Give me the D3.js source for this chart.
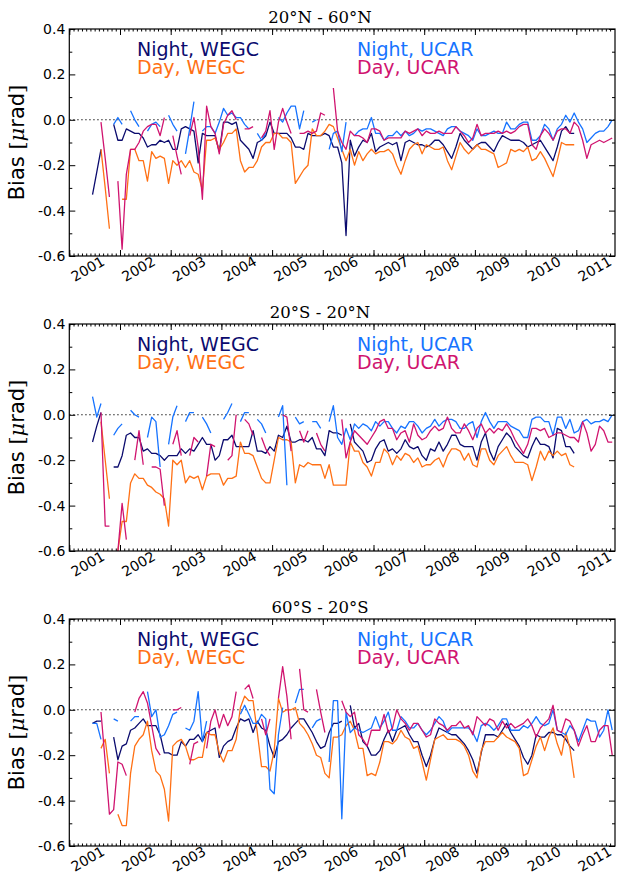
<!DOCTYPE html>
<html><head><meta charset="utf-8">
<script src="https://cdn.jsdelivr.net/npm/d3@7"></script>
<style>body{margin:0;background:#fff}svg{display:block}</style>
</head><body>
<script>
const seriesNames = ["Night, WEGC", "Day, WEGC", "Night, UCAR", "Day, UCAR"];
const seriesColors = ["#0b0b6e", "#ff7014", "#1673ff", "#d0146f"];
const panelTitles = ["20°N - 60°N", "20°S - 20°N", "60°S - 20°S"];
const yearTicks = [2001, 2002, 2003, 2004, 2005, 2006, 2007, 2008, 2009, 2010, 2011];
const yTickValues = [0.4, 0.2, 0.0, -0.2, -0.4, -0.6];
const yMinorValues = [0.3, 0.1, -0.1, -0.3, -0.5];
// monthly samples, June 2001 .. September 2011 (mid-month positions)
const firstMonth = 2001 + 5 / 12;
const months = d3.range(124).map(i => firstMonth + (i + 0.5) / 12);

// ---- 20N-60N ----
const p1NightWEGC = [-0.33,-0.23,-0.13,null,null,-0.02,-0.09,
 -0.09,-0.04,-0.05,-0.06,-0.06,-0.08,-0.12,-0.11,-0.11,-0.09,-0.10,-0.09,
 -0.13,-0.13,-0.04,-0.03,-0.04,-0.05,-0.19,-0.06,-0.07,-0.07,-0.07,-0.14,
 -0.01,-0.01,-0.02,-0.01,-0.09,-0.11,-0.13,-0.17,-0.10,-0.09,-0.07,-0.01,
 -0.06,-0.06,-0.06,-0.06,-0.08,-0.12,-0.12,-0.13,-0.06,-0.07,-0.07,-0.07,
 -0.06,-0.07,-0.12,-0.12,-0.19,-0.51,-0.09,-0.16,-0.12,-0.09,-0.10,-0.06,
 -0.14,-0.12,-0.11,-0.10,-0.11,-0.10,-0.18,-0.10,-0.09,-0.10,-0.11,-0.11,
 -0.12,-0.11,-0.09,-0.09,-0.11,-0.14,-0.17,-0.12,-0.06,-0.09,-0.11,-0.13,
 -0.11,-0.10,-0.10,-0.12,-0.14,-0.10,-0.07,-0.08,-0.09,-0.09,-0.09,-0.10,
 -0.12,-0.11,-0.10,-0.09,-0.12,-0.15,-0.18,-0.12,-0.05,-0.03,-0.06,-0.06,
 null,null,null,null,null,null,null,null,null];
const p1DayWEGC = [null,null,-0.13,-0.30,-0.48,null,null,
 -0.35,-0.35,-0.13,-0.13,-0.18,-0.18,-0.27,-0.14,-0.17,-0.16,-0.17,-0.28,
 -0.18,-0.20,-0.18,-0.21,-0.18,-0.23,-0.24,-0.31,-0.09,-0.09,-0.08,-0.13,
 -0.10,-0.06,-0.06,-0.04,-0.18,-0.23,-0.21,-0.21,-0.18,-0.12,-0.10,-0.10,
 -0.06,-0.06,-0.08,-0.08,-0.10,-0.28,-0.25,-0.22,-0.20,-0.04,-0.07,-0.07,
 -0.05,-0.02,-0.03,-0.08,-0.13,-0.18,-0.13,-0.20,-0.14,-0.18,-0.15,-0.13,
 -0.15,-0.14,-0.14,-0.13,-0.15,-0.20,-0.24,-0.18,-0.13,-0.11,-0.10,-0.15,
 -0.11,-0.12,-0.13,-0.13,-0.12,-0.18,-0.22,-0.16,-0.10,-0.13,-0.15,-0.13,
 -0.11,-0.13,-0.13,-0.14,-0.15,-0.21,-0.20,-0.19,-0.13,-0.14,-0.13,-0.14,
 -0.12,-0.18,-0.17,-0.14,-0.17,-0.21,-0.25,-0.18,-0.10,-0.11,-0.11,-0.11,
 null,null,null,null,null,null,null,null,null];
const p1NightUCAR = [null,null,null,null,null,-0.02,0.01,
 -0.02,null,0.04,0.00,-0.03,null,-0.05,-0.02,-0.01,-0.03,null,0.02,
 -0.02,-0.05,null,-0.15,-0.04,0.08,null,-0.05,-0.03,-0.03,-0.06,-0.01,
 0.05,0.02,0.03,0.01,0.01,-0.02,-0.04,null,-0.06,-0.09,-0.06,null,
 null,0.01,-0.01,0.03,0.06,0.06,-0.04,0.04,null,-0.01,0.00,null,
 null,-0.13,-0.06,-0.05,-0.14,-0.01,null,-0.07,-0.05,-0.04,-0.04,0.01,
 -0.06,-0.06,-0.09,-0.07,-0.07,-0.05,-0.07,-0.05,-0.07,-0.06,-0.04,-0.05,
 -0.04,-0.04,-0.05,-0.06,-0.07,-0.04,-0.03,-0.03,-0.05,-0.06,-0.07,-0.09,
 -0.04,-0.07,-0.07,-0.06,-0.05,-0.06,-0.06,-0.01,-0.04,-0.04,-0.02,-0.01,
 -0.01,-0.09,-0.09,-0.07,-0.02,-0.04,-0.09,-0.04,-0.02,0.02,-0.01,0.03,
 -0.01,-0.04,-0.10,-0.08,-0.06,-0.05,-0.05,-0.03,0.00];
const p1DayUCAR = [null,null,-0.01,-0.17,-0.34,null,-0.27,
 -0.57,-0.24,-0.13,-0.13,-0.10,-0.05,-0.03,-0.02,-0.02,-0.07,0.01,null,
 -0.07,-0.16,-0.24,null,-0.07,0.01,-0.12,-0.35,0.06,-0.03,-0.06,-0.15,
 -0.02,0.02,0.04,0.00,null,-0.04,-0.04,-0.03,null,-0.08,-0.05,0.04,
 -0.13,-0.01,0.05,-0.01,-0.06,null,-0.06,-0.06,-0.05,-0.06,-0.05,0.03,
 0.02,null,0.14,-0.05,-0.10,-0.13,-0.05,-0.07,-0.07,-0.08,-0.10,-0.04,
 -0.04,-0.05,-0.09,-0.08,-0.08,-0.08,-0.08,-0.05,-0.06,-0.05,-0.04,-0.07,
 -0.05,-0.06,-0.06,-0.05,-0.06,-0.06,-0.06,-0.03,-0.05,-0.07,-0.10,-0.08,
 -0.02,-0.07,-0.06,-0.06,-0.06,-0.05,-0.06,-0.05,-0.06,-0.05,-0.03,-0.02,
 -0.02,-0.11,-0.13,-0.07,-0.04,-0.06,-0.09,-0.05,-0.04,-0.04,-0.06,-0.01,
 -0.03,-0.09,-0.17,-0.11,-0.10,-0.09,-0.10,-0.09,-0.08];

// ---- 20S-20N ----
const p2NightWEGC = [-0.12,-0.05,0.01,null,null,-0.23,-0.23,
 -0.18,-0.09,-0.08,-0.10,-0.10,-0.16,-0.15,-0.17,-0.17,-0.18,-0.20,-0.18,
 -0.18,-0.18,-0.15,-0.17,-0.15,-0.16,-0.13,-0.10,-0.13,-0.13,-0.20,-0.18,
 -0.11,-0.11,-0.09,-0.14,-0.14,-0.14,-0.14,-0.07,-0.16,-0.16,-0.17,-0.14,
 -0.16,-0.09,-0.10,-0.05,-0.12,-0.12,-0.11,-0.11,-0.12,-0.10,-0.15,-0.15,
 -0.18,-0.07,-0.08,-0.08,-0.09,null,-0.04,-0.12,-0.14,-0.16,-0.21,-0.20,
 -0.15,-0.12,-0.11,-0.16,-0.15,-0.17,-0.15,-0.11,-0.14,-0.15,-0.14,-0.18,
 -0.20,-0.15,-0.16,-0.12,-0.16,-0.13,-0.09,-0.09,-0.13,-0.14,-0.14,-0.14,
 -0.20,-0.12,-0.08,-0.16,-0.20,-0.14,-0.11,-0.08,-0.10,-0.14,-0.16,-0.18,
 -0.19,-0.14,-0.10,-0.13,-0.13,-0.14,-0.19,-0.06,-0.07,-0.14,-0.14,-0.17,
 null,null,null,null,null,null,null,null,null];
const p2DayWEGC = [null,null,-0.03,-0.20,-0.37,null,-0.60,
 -0.47,-0.47,-0.30,-0.26,-0.28,-0.28,-0.31,-0.32,-0.34,-0.35,-0.37,-0.49,
 -0.20,-0.22,-0.20,-0.30,-0.27,-0.28,-0.27,-0.33,-0.27,-0.26,-0.26,-0.26,
 -0.31,-0.28,-0.28,-0.27,-0.12,-0.17,-0.17,-0.18,-0.23,-0.28,-0.30,-0.30,
 -0.20,-0.10,-0.11,-0.11,-0.12,-0.30,-0.22,-0.23,-0.21,-0.22,-0.22,-0.22,
 -0.28,-0.22,-0.31,-0.31,-0.31,-0.31,-0.12,-0.16,-0.16,-0.21,-0.23,-0.27,
 -0.21,-0.21,-0.15,-0.17,-0.22,-0.18,-0.20,-0.17,-0.18,-0.21,-0.19,-0.23,
 -0.22,-0.22,-0.20,-0.19,-0.23,-0.18,-0.15,-0.15,-0.16,-0.20,-0.17,-0.22,
 -0.23,-0.15,-0.15,-0.20,-0.22,-0.18,-0.16,-0.14,-0.18,-0.21,-0.21,-0.21,
 -0.22,-0.29,-0.23,-0.16,-0.20,-0.16,-0.18,-0.16,-0.18,-0.17,-0.22,-0.23,
 null,null,null,null,null,null,null,null,null];
const p2NightUCAR = [0.08,-0.01,0.05,null,null,-0.09,-0.06,
 -0.04,null,0.02,0.00,-0.01,null,-0.10,-0.01,-0.03,-0.23,null,-0.13,
 -0.01,0.04,null,-0.03,0.01,0.01,null,-0.01,-0.04,-0.08,null,null,
 -0.02,0.01,0.05,null,-0.03,0.01,0.01,null,-0.02,-0.04,-0.08,null,
 null,-0.01,0.04,-0.31,null,-0.01,-0.04,-0.03,null,-0.03,-0.03,-0.06,
 null,-0.03,0.04,-0.10,-0.13,-0.06,-0.11,-0.04,-0.06,-0.04,-0.05,-0.07,
 -0.03,-0.05,-0.03,-0.03,-0.06,-0.08,-0.05,-0.06,-0.03,-0.03,-0.05,-0.08,
 -0.06,-0.05,-0.02,-0.05,-0.03,-0.02,-0.02,-0.03,-0.06,-0.06,-0.04,-0.03,
 -0.10,-0.03,0.01,-0.03,-0.06,-0.03,-0.03,-0.03,-0.05,-0.06,-0.07,-0.10,
 -0.10,-0.02,-0.01,-0.01,-0.03,-0.03,-0.09,-0.01,-0.01,-0.06,-0.02,-0.08,
 -0.07,-0.03,-0.02,-0.04,-0.03,-0.03,-0.02,-0.03,0.00];
const p2DayUCAR = [null,null,0.01,-0.49,-0.49,null,-0.60,
 -0.39,-0.55,null,-0.20,-0.07,-0.22,null,-0.23,-0.23,-0.24,-0.40,null,
 -0.13,-0.07,-0.18,null,-0.18,-0.10,-0.12,null,-0.27,-0.13,-0.14,null,
 null,-0.20,-0.18,0.00,null,-0.02,-0.04,-0.09,null,-0.10,-0.15,-0.18,
 null,null,0.00,-0.01,-0.16,null,-0.07,-0.12,-0.07,null,-0.08,-0.13,
 -0.16,null,null,null,-0.02,-0.19,-0.12,-0.07,-0.09,-0.11,-0.13,-0.10,
 -0.07,-0.03,-0.02,-0.06,-0.06,-0.11,-0.08,-0.07,-0.12,-0.04,-0.09,-0.11,
 -0.10,-0.07,-0.05,-0.07,-0.06,-0.01,-0.06,-0.08,-0.08,-0.04,-0.07,-0.11,
 -0.06,-0.04,-0.08,-0.06,-0.08,-0.06,-0.07,-0.04,-0.07,-0.11,-0.14,-0.17,
 -0.13,-0.06,-0.06,-0.07,-0.06,-0.10,-0.09,-0.08,-0.08,-0.09,-0.10,-0.10,
 -0.12,-0.03,-0.08,-0.16,-0.13,-0.05,-0.07,-0.12,-0.12];

// ---- 60S-20S ----
const p3NightWEGC = [-0.06,-0.05,-0.05,null,null,-0.12,-0.22,
 -0.16,-0.15,-0.09,-0.08,-0.06,-0.04,-0.07,-0.07,-0.07,-0.11,-0.19,-0.19,
 -0.20,-0.20,-0.14,-0.16,-0.13,-0.13,-0.11,-0.14,-0.10,-0.09,-0.08,-0.21,
 -0.16,-0.14,-0.13,-0.08,-0.04,-0.05,-0.04,-0.10,-0.05,-0.08,-0.09,-0.16,
 -0.21,-0.14,-0.13,-0.11,-0.08,-0.06,-0.04,-0.04,-0.07,-0.10,-0.14,-0.17,
 -0.16,-0.10,-0.06,-0.06,-0.05,null,0.02,-0.08,-0.06,-0.14,-0.16,-0.20,
 -0.20,-0.18,-0.13,-0.09,-0.14,-0.09,-0.08,-0.07,-0.11,-0.14,-0.14,-0.20,
 -0.25,-0.20,-0.13,-0.08,-0.09,-0.10,-0.11,-0.11,-0.13,-0.15,-0.18,-0.22,
 -0.28,-0.19,-0.11,-0.11,-0.11,-0.12,-0.09,-0.06,-0.10,-0.13,-0.16,-0.21,
 -0.24,-0.20,-0.11,-0.12,-0.12,-0.10,-0.10,-0.11,-0.11,-0.13,-0.16,-0.18,
 null,null,null,null,null,null,null,null,null];
const p3DayWEGC = [null,null,-0.17,-0.13,-0.28,null,-0.46,
 -0.51,-0.51,-0.28,-0.16,-0.13,-0.11,-0.05,-0.18,-0.27,-0.29,-0.35,-0.49,
 -0.16,-0.14,-0.13,-0.16,-0.22,-0.22,-0.21,-0.21,-0.10,-0.11,-0.11,-0.19,
 -0.23,-0.18,-0.18,-0.13,0.01,0.06,0.04,0.04,-0.10,-0.25,-0.25,-0.27,
 -0.18,0.05,-0.01,0.00,0.00,0.01,-0.06,-0.08,-0.11,-0.15,-0.20,-0.21,
 -0.28,-0.30,-0.12,-0.12,-0.11,-0.07,-0.05,-0.09,-0.17,-0.17,-0.29,-0.28,
 -0.29,-0.23,-0.14,-0.14,-0.15,-0.13,-0.09,-0.12,-0.13,-0.17,-0.16,-0.23,
 -0.31,-0.22,-0.13,-0.12,-0.11,-0.13,-0.13,-0.13,-0.14,-0.16,-0.20,-0.27,
 -0.30,-0.18,-0.14,-0.14,-0.14,-0.12,-0.10,-0.12,-0.13,-0.14,-0.17,-0.29,
 -0.28,-0.22,-0.16,-0.12,-0.18,-0.12,-0.08,-0.15,-0.20,-0.10,-0.17,-0.30,
 null,null,null,null,null,null,null,null,null];
const p3NightUCAR = [-0.06,-0.06,-0.13,null,null,-0.04,-0.05,
 null,null,-0.05,-0.03,-0.03,null,0.08,-0.03,0.00,-0.12,-0.11,-0.07,
 -0.02,-0.01,null,-0.08,-0.09,-0.05,0.08,-0.14,-0.05,null,null,null,
 null,null,null,null,-0.02,0.02,-0.02,-0.06,-0.06,-0.02,-0.04,-0.35,
 -0.37,-0.11,0.01,null,null,0.03,0.09,0.09,null,-0.08,-0.05,-0.04,
 null,-0.23,0.04,0.04,-0.48,-0.01,-0.10,-0.08,-0.09,-0.10,-0.09,-0.08,
 -0.03,-0.08,-0.05,-0.01,-0.09,-0.09,-0.03,-0.05,-0.08,-0.08,-0.06,-0.09,
 -0.11,-0.09,-0.06,-0.03,-0.05,-0.10,-0.08,-0.08,-0.08,-0.08,-0.08,-0.10,
 -0.14,-0.07,-0.06,-0.07,-0.09,-0.07,-0.04,-0.04,-0.09,-0.09,-0.09,-0.07,
 -0.08,-0.06,-0.03,-0.06,-0.07,-0.06,0.00,-0.09,-0.10,-0.11,-0.07,-0.09,
 -0.14,-0.09,-0.04,-0.05,-0.05,-0.12,-0.09,0.00,-0.09];
const p3DayUCAR = [null,null,-0.01,-0.23,-0.46,-0.44,-0.23,
 -0.24,-0.29,null,-0.01,0.05,0.08,0.03,-0.07,-0.17,-0.20,null,null,
 0.00,0.00,0.01,null,-0.24,-0.15,-0.14,null,-0.17,-0.05,0.00,-0.08,
 -0.02,-0.07,-0.03,0.08,null,0.09,0.11,0.05,null,-0.04,-0.11,-0.04,
 null,0.05,0.19,0.06,-0.13,null,0.18,0.00,-0.01,null,0.09,-0.01,
 -0.10,null,null,null,0.04,-0.01,-0.03,-0.01,-0.11,-0.13,-0.16,-0.09,
 -0.09,-0.09,-0.02,-0.10,-0.08,0.00,-0.04,-0.06,-0.09,-0.06,-0.06,-0.09,
 -0.12,-0.11,-0.04,-0.06,-0.07,-0.09,-0.07,-0.07,-0.05,-0.08,-0.07,-0.11,
 -0.03,-0.05,-0.07,-0.04,-0.05,-0.09,-0.05,-0.08,-0.06,-0.08,-0.07,-0.06,
 -0.04,-0.07,-0.12,-0.08,-0.06,-0.04,0.02,-0.09,-0.10,-0.04,-0.05,-0.09,
 -0.16,-0.11,-0.07,-0.14,-0.14,-0.09,-0.07,-0.07,-0.20];

const panelSeries = [
  [p1NightWEGC, p1DayWEGC, p1NightUCAR, p1DayUCAR],
  [p2NightWEGC, p2DayWEGC, p2NightUCAR, p2DayUCAR],
  [p3NightWEGC, p3DayWEGC, p3NightUCAR, p3DayUCAR]
];

const W = 617, H = 882;
const L = 69.3, R = 615, PH = 227;
const tops = [29, 324, 619];
const yearPx = 50.7;
const SANS = "'DejaVu Sans', sans-serif";
const SERIF = "'DejaVu Serif', serif";

const svg = d3.select("body").append("svg").attr("width", W).attr("height", H);
const x = d3.scaleLinear().domain([2001, 2001 + (R - L) / yearPx]).range([L, R]);
const monthTicks = d3.range(0, 129).map(i => 2001 + i / 12).filter(v => v <= x.domain()[1]);

panelTitles.forEach((title, pi) => {
  const top = tops[pi];
  const y = d3.scaleLinear().domain([-0.6, 0.4]).range([top + PH, top]);
  const g = svg.append("g");

  const clipId = "clip" + pi;
  svg.append("clipPath").attr("id", clipId).append("rect")
    .attr("x", L).attr("y", top).attr("width", R - L).attr("height", PH);

  // zero line
  g.append("line").attr("x1", L).attr("x2", R).attr("y1", y(0)).attr("y2", y(0))
    .attr("stroke", "#000").attr("stroke-width", 1.1).attr("stroke-dasharray", "1.3,2.7");

  // data
  const line = d3.line().defined(d => d[1] !== null)
    .x(d => x(d[0])).y(d => y(d[1]));
  const dg = g.append("g").attr("clip-path", `url(#${clipId})`);
  panelSeries[pi].forEach((vals, si) => {
    const pts = months.map((m, i) => [m, vals[i]]);
    dg.append("path").attr("d", line(pts)).attr("fill", "none")
      .attr("stroke", seriesColors[si]).attr("stroke-width", 1.3)
      .attr("stroke-linejoin", "round");
  });

  // axes (inward ticks)
  const xb = g.append("g").attr("transform", `translate(0,${top + PH})`)
    .call(d3.axisBottom(x).tickValues(yearTicks).tickSize(-6).tickFormat(d3.format("d")));
  xb.selectAll("text").attr("x", 0).attr("y", 0).attr("dy", null)
    .attr("text-anchor", "start").attr("transform", "translate(5,26) rotate(-30)");
  g.append("g").attr("transform", `translate(0,${top + PH})`)
    .call(d3.axisBottom(x).tickValues(monthTicks).tickSize(-2.5).tickFormat(""));
  g.append("g").attr("transform", `translate(0,${top})`)
    .call(d3.axisTop(x).tickValues(yearTicks).tickSize(-6).tickFormat(""));
  g.append("g").attr("transform", `translate(0,${top})`)
    .call(d3.axisTop(x).tickValues(monthTicks).tickSize(-2.5).tickFormat(""));

  g.append("g").attr("transform", `translate(${L},0)`)
    .call(d3.axisLeft(y).tickValues(yTickValues).tickSize(-6).tickPadding(4).tickFormat(d => d.toFixed(1)));
  g.append("g").attr("transform", `translate(${L},0)`)
    .call(d3.axisLeft(y).tickValues(yMinorValues).tickSize(-3).tickFormat(""));
  g.append("g").attr("transform", `translate(${R},0)`)
    .call(d3.axisRight(y).tickValues(yTickValues).tickSize(-6).tickFormat(""));
  g.append("g").attr("transform", `translate(${R},0)`)
    .call(d3.axisRight(y).tickValues(yMinorValues).tickSize(-3).tickFormat(""));

  g.selectAll(".domain").remove();
  g.selectAll(".tick line").attr("stroke", "#000").attr("stroke-width", 1);
  g.selectAll(".tick text").attr("font-family", SANS).attr("font-size", 14).attr("fill", "#000");

  // frame
  g.append("rect").attr("x", L).attr("y", top).attr("width", R - L).attr("height", PH)
    .attr("fill", "none").attr("stroke", "#000").attr("stroke-width", 1.2);

  // title
  g.append("text").attr("x", 320).attr("y", top - 6.5).attr("text-anchor", "middle")
    .attr("font-family", SERIF).attr("font-size", 16.5).attr("fill", "#000").text(title);

  // legend labels
  const legPos = [[137, 27], [137, 44.5], [357, 27], [357, 44.5]];
  seriesNames.forEach((nm, si) => {
    g.append("text").attr("x", legPos[si][0]).attr("y", top + legPos[si][1])
      .attr("font-family", SANS).attr("font-size", 19).attr("fill", seriesColors[si]).text(nm);
  });

  // y label
  const yl = g.append("text").attr("transform", `translate(24,${top + PH / 2}) rotate(-90)`)
    .attr("text-anchor", "middle").attr("font-family", SANS).attr("font-size", 21).attr("fill", "#000");
  yl.append("tspan").text("Bias ");
  yl.append("tspan").attr("font-family", SERIF).text("[");
  yl.append("tspan").attr("font-family", SERIF).attr("font-style", "italic").text("μ");
  yl.append("tspan").text("rad");
  yl.append("tspan").attr("font-family", SERIF).text("]");
});
</script>
</body></html>
